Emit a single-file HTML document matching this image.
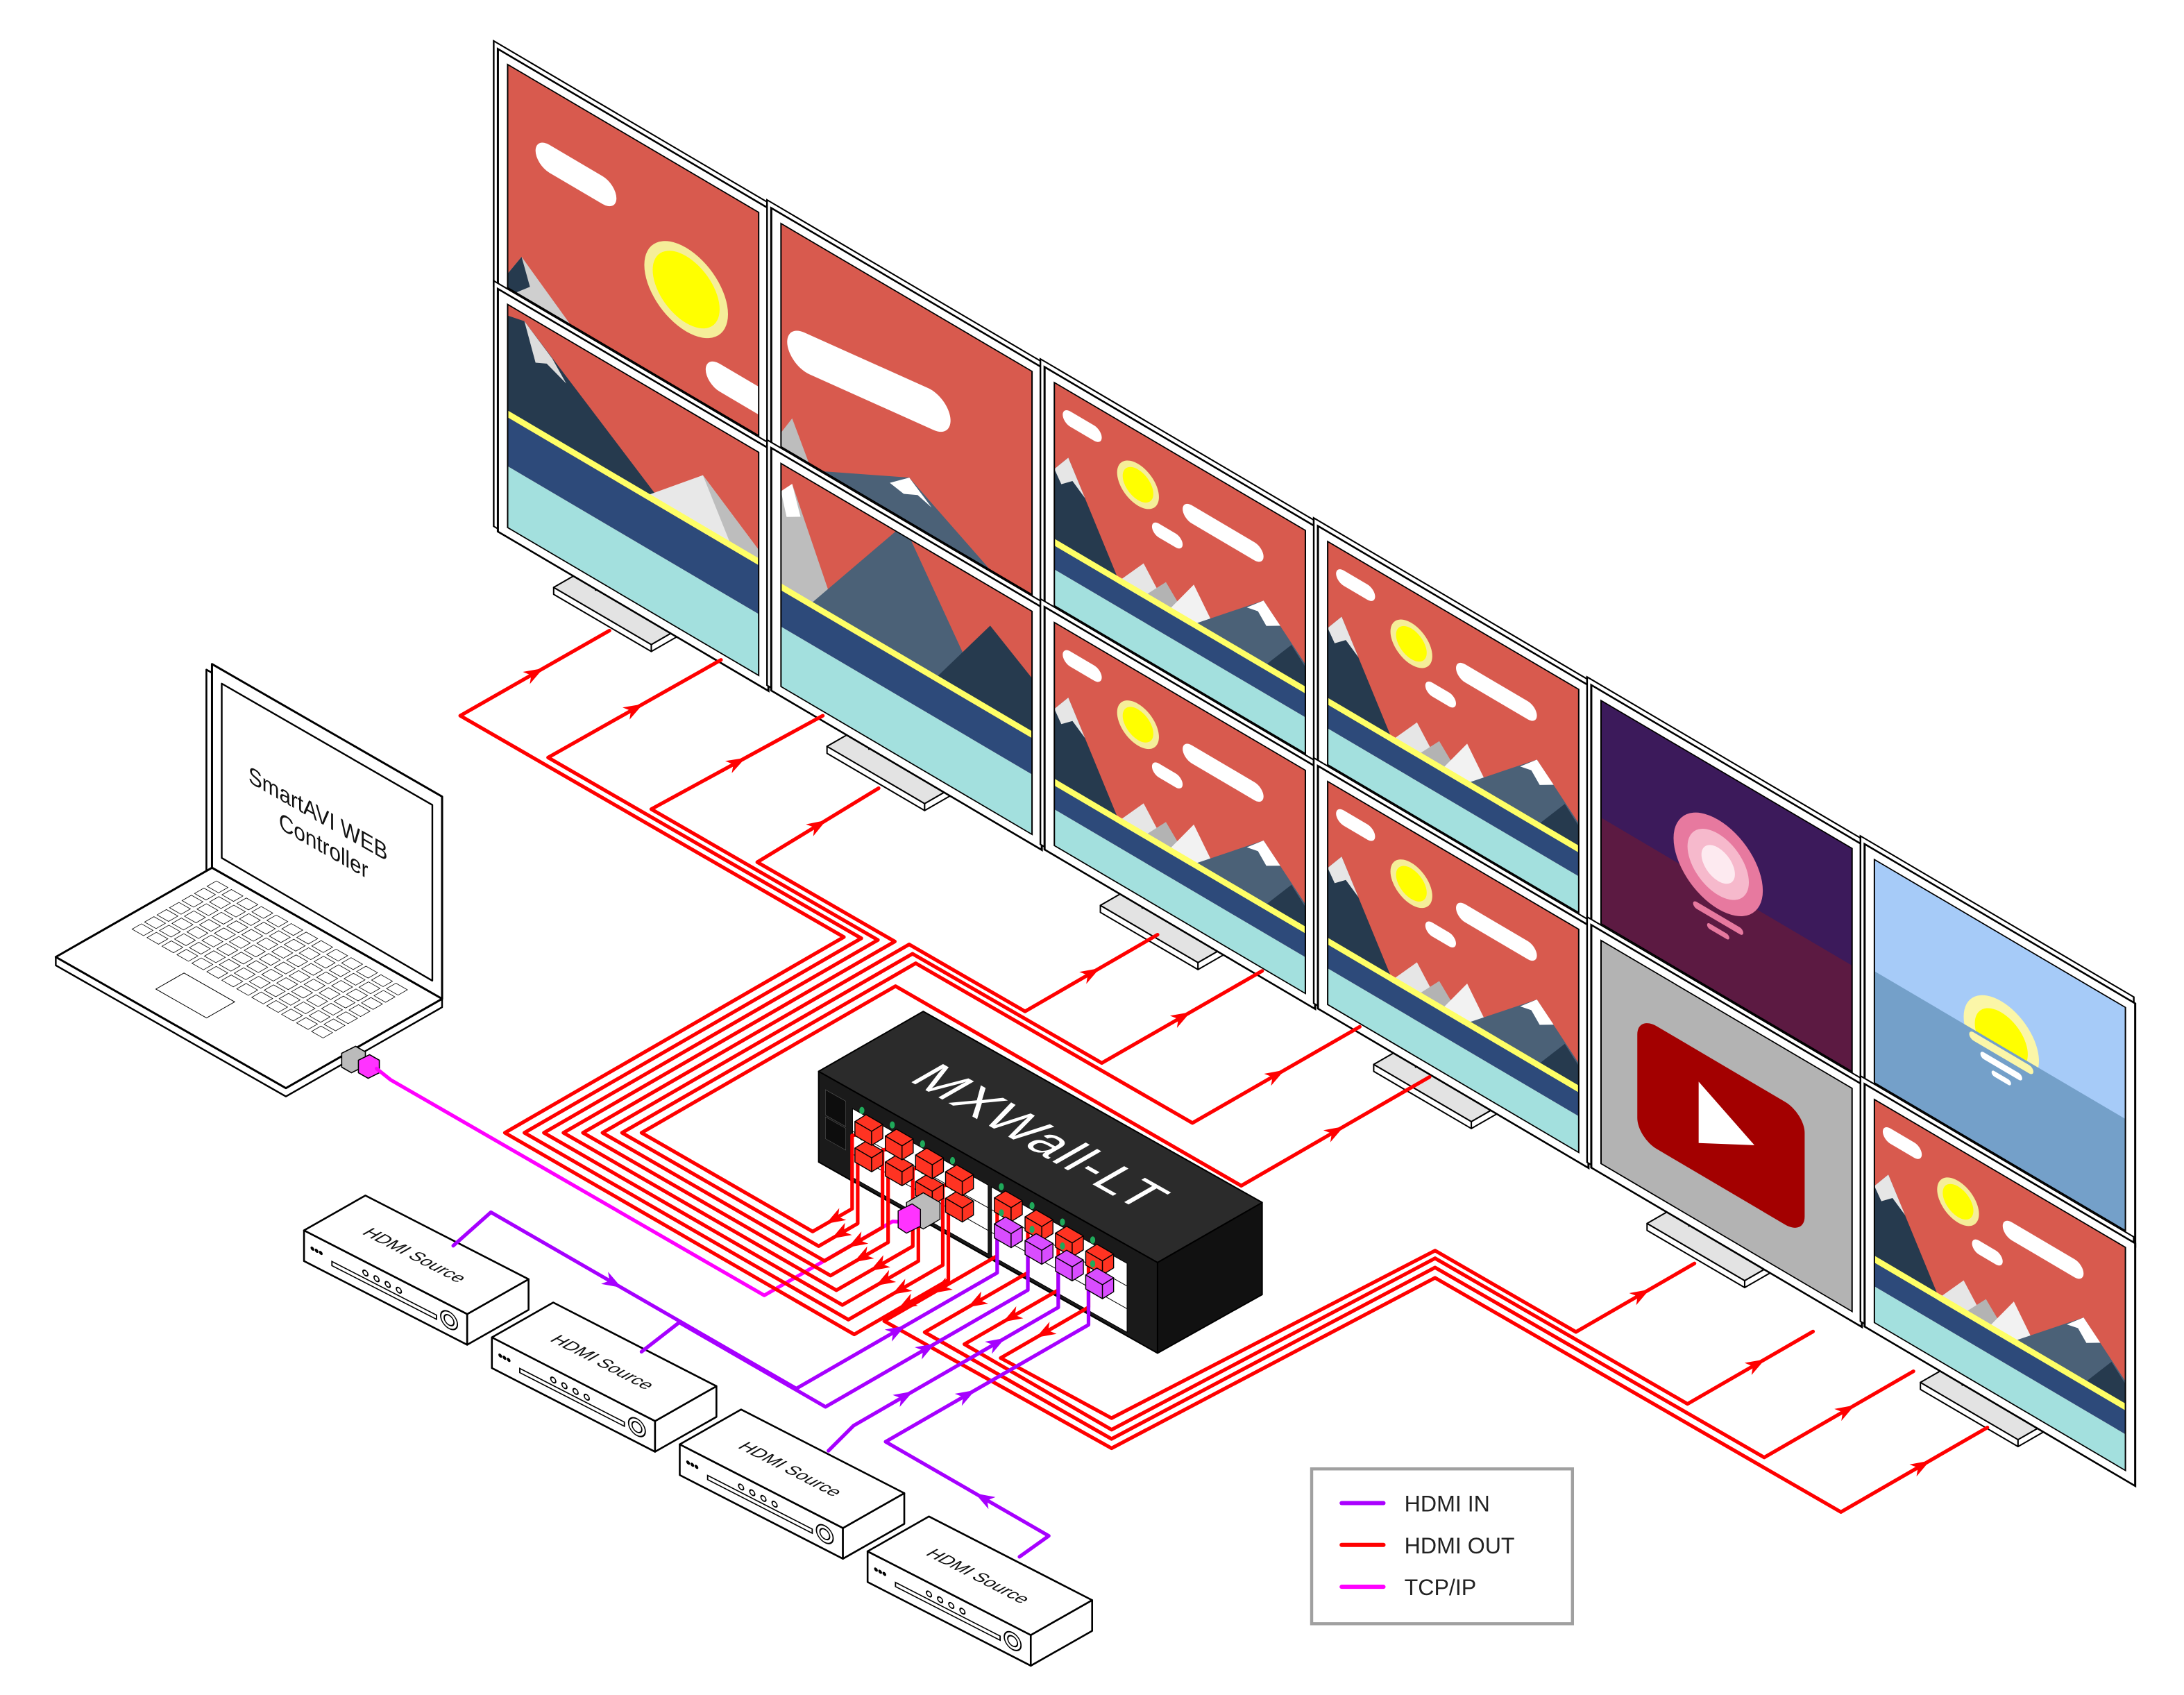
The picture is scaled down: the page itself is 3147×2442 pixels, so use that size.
<!DOCTYPE html>
<html><head><meta charset="utf-8">
<style>
html,body{margin:0;padding:0;background:#fff;}
svg{display:block;}
text{font-family:"Liberation Sans",sans-serif;}
</style></head>
<body>
<svg id="s" xmlns="http://www.w3.org/2000/svg" width="3147" height="2442" viewBox="0 0 1566 1215">
<defs><clipPath id="scr"><rect x="7" y="7" width="180" height="160"/></clipPath></defs>
<rect width="1566" height="1215" fill="#fff"/>
<g id="root"></g>
<g>
<rect x="940.5" y="1053" width="187" height="111" fill="#fff" stroke="#a0a0a0" stroke-width="2.2"/>
<line x1="962" y1="1077.5" x2="992" y2="1077.5" stroke="#aa00ff" stroke-width="3" stroke-linecap="round"/>
<line x1="962" y1="1107.5" x2="992" y2="1107.5" stroke="#ff0000" stroke-width="3" stroke-linecap="round"/>
<line x1="962" y1="1137.5" x2="992" y2="1137.5" stroke="#ff00ff" stroke-width="3" stroke-linecap="round"/>
<text x="1007" y="1083.5" font-size="16" fill="#222">HDMI IN</text>
<text x="1007" y="1113.5" font-size="16" fill="#222">HDMI OUT</text>
<text x="1007" y="1143.5" font-size="16" fill="#222">TCP/IP</text>
</g>
</svg>
<script>
(function(){
let o='';
const s=0.577;
const f=n=>(+n).toFixed(1);
function P(a){return a.map(p=>f(p[0])+','+f(p[1])).join(' ');}
function poly(a,fill,st,w){o+=`<polygon points="${P(a)}" fill="${fill}" stroke="${st||'#000'}" stroke-width="${w||1}" stroke-linejoin="round"/>`;}
function pl(a,c,w){o+=`<polyline points="${P(a)}" fill="none" stroke="${c}" stroke-width="${w||2.6}" stroke-linejoin="round" stroke-linecap="round"/>`;}
function ar(a,b,c,t){t=(t===undefined)?0.5:t;const x=a[0]+(b[0]-a[0])*t,y=a[1]+(b[1]-a[1])*t;let dx=b[0]-a[0],dy=b[1]-a[1];const L=Math.hypot(dx,dy);dx/=L;dy/=L;
 const tip=[x+dx*7,y+dy*7],l=[x-dx*7-dy*5,y-dy*7+dx*5],r=[x-dx*7+dy*5,y-dy*7-dx*5],m=[x-dx*3,y-dy*3];
 o+=`<polygon points="${P([tip,l,m,r])}" fill="${c}"/>`;}
function X(A,B){const x=(B[1]-A[1]+s*(A[0]+B[0]))/(2*s);return [x,A[1]+s*(x-A[0])];}
const ad=(p,d)=>[p[0]+d[0],p[1]+d[1]];

/* ---------- scenes ---------- */
const RED='#d85a4e',NAVY='#263a4e',BG='#4b6177',YEL='#ffff66',DB='#2d4a7a',TEAL='#a3e0de';
const A=`<rect width="180" height="160" fill="${RED}"/>
<rect x="6" y="14" width="28" height="11" rx="5.5" fill="#fff"/>
<rect x="92" y="30" width="58" height="13" rx="6.5" fill="#fff"/>
<rect x="70" y="57" width="22" height="10" rx="5" fill="#fff"/>
<circle cx="60" cy="38" r="15" fill="#f5ee99"/><circle cx="60" cy="38" r="11" fill="#ffff00"/>
<polygon points="0,62 10,48 48,118 0,118" fill="${NAVY}"/>
<polygon points="0,62 10,48 22,70 13,63 5,70" fill="#e6e6e6"/>
<polygon points="44,118 64,92 84,118" fill="#e6e6e6"/>
<polygon points="62,118 80,96 100,118" fill="#b3b3b3"/>
<polygon points="80,118 100,86 122,118" fill="#f2f2f2"/>
<polygon points="96,118 150,68 180,96 180,118" fill="${BG}"/>
<polygon points="150,68 138,80 146,78 152,85 162,79" fill="#fff"/>
<polygon points="148,118 170,88 180,98 180,118" fill="${NAVY}"/>
<rect y="112" width="180" height="5" fill="${YEL}"/>
<rect y="117" width="180" height="17" fill="${DB}"/>
<rect y="134" width="180" height="26" fill="${TEAL}"/>`;
const B1=`<rect width="180" height="160" fill="${RED}"/>
<rect x="20" y="40" width="58" height="20" rx="10" fill="#fff"/>
<rect x="142" y="125" width="48" height="20" rx="10" fill="#fff"/>
<circle cx="128" cy="86" r="30" fill="#f5ee99"/><circle cx="128" cy="86" r="24" fill="#ffff00"/>
<polygon points="0,150 10,132 45,160 0,160" fill="#cfcfcf"/>
<polygon points="0,150 10,132 16,150 6,160 0,160" fill="${NAVY}"/>`;
const B2=`<rect width="180" height="160" fill="${RED}"/>
<polygon points="0,8 12,5 112,78 0,78" fill="${NAVY}"/>
<polygon points="12,5 32,20 42,32 28,26 20,30" fill="#ddd"/>
<polygon points="100,78 140,40 180,70 180,78" fill="#e8e8e8"/>
<polygon points="140,40 160,78 180,78 180,70" fill="#bdbdbd"/>
<rect y="76" width="180" height="5" fill="${YEL}"/>
<rect y="81" width="180" height="35" fill="${DB}"/>
<rect y="116" width="180" height="44" fill="${TEAL}"/>`;
const B3=`<rect width="180" height="160" fill="${RED}"/>
<rect x="4" y="62" width="118" height="28" rx="14" fill="#fff" transform="rotate(-8 63 76)"/>
<polygon points="30,160 92,128 150,160" fill="${BG}"/>
<polygon points="78,140 92,128 108,140 98,137 88,142" fill="#fff"/>
<polygon points="0,150 8,135 20,160 0,160" fill="#bdbdbd"/>`;
const B4=`<rect width="180" height="160" fill="${RED}"/>
<polygon points="0,20 8,10 42,90 0,90" fill="#bdbdbd"/>
<polygon points="0,20 8,10 14,30 4,36" fill="#fff"/>
<polygon points="20,90 88,-8 150,90" fill="${BG}"/>
<polygon points="110,90 150,28 180,48 180,90" fill="${NAVY}"/>
<rect y="86" width="180" height="5" fill="${YEL}"/>
<rect y="91" width="180" height="26" fill="${DB}"/>
<rect y="117" width="180" height="43" fill="${TEAL}"/>`;
const PUR=`<rect width="180" height="160" fill="#3c1a5b"/><rect y="84" width="180" height="76" fill="#5c1a42"/>
<circle cx="84" cy="68" r="32" fill="#e7799f"/><circle cx="84" cy="68" r="22" fill="#f6b9cc"/><circle cx="84" cy="68" r="12" fill="#fdeaf0"/>
<rect x="66" y="104" width="36" height="5" rx="2.5" fill="#e7799f"/><rect x="76" y="114" width="16" height="4" rx="2" fill="#e7799f"/>`;
const YT=`<rect width="180" height="160" fill="#b3b3b3"/>
<rect x="26" y="38" width="120" height="88" rx="14" fill="#a30000"/>
<polygon points="70,60 70,104 110,82" fill="#fff"/>`;
const SKY=`<rect width="180" height="160" fill="#a6cbf8"/>
<circle cx="91" cy="75" r="27" fill="#fbf6a8"/><circle cx="91" cy="75" r="19" fill="#ffff00"/>
<rect y="80" width="180" height="80" fill="#74a0c9"/>
<rect x="68" y="82" width="46" height="6" rx="3" fill="#fbf6a8"/>
<rect x="76" y="92" width="30" height="5" rx="2.5" fill="#fff"/>
<rect x="84" y="101" width="14" height="4" rx="2" fill="#fff"/>`;
const scenes=[[B1,B2],[B3,B4],[A,A],[A,A],[PUR,YT],[SKY,A]];

/* ---------- stands ---------- */
for(let c=0;c<6;c++){
 const BLx=357+196*c, BLy=35+114*c+172+174;
 const p1=[BLx+40,BLy+40],p2=ad(p1,[70,41]),p3=ad(p2,[40,-23]),p4=ad(p1,[40,-23]);
 poly([p1,p2,ad(p2,[0,5]),ad(p1,[0,5])],'#fff');
 poly([p2,p3,ad(p3,[0,5]),ad(p2,[0,5])],'#fff');
 poly([p1,p2,p3,p4],'#e3e3e3');
 poly([ad(p1,[30,2]),ad(p1,[50,-10]),ad(p1,[50,-30]),ad(p1,[30,-18])],'#fff');
}
/* ---------- monitors ---------- */
for(let c=0;c<6;c++)for(let r=0;r<2;r++){
 const x0=357+196*c,y0=35+114*c+172*r;
 o+=`<g transform="matrix(1,0.589,0,1,${x0},${y0})">
<rect x="-3" y="-4" width="196" height="176" fill="#fff" stroke="#000" stroke-width="1.2"/>
<rect x="0" y="0" width="194" height="174" fill="#fff" stroke="#000" stroke-width="1.5"/>
<g clip-path="url(#scr)"><g transform="translate(7,7)">${scenes[c][r]}</g></g>
<rect x="7" y="7" width="180" height="160" fill="none" stroke="#000" stroke-width="1"/></g>`;
}

/* ---------- laptop ---------- */
poly([[148,480],[313,574],[313,719],[148,625]],'#fff','#000',1.3);
poly([[152,476],[317,571],[317,716],[152,622]],'#fff','#000',1.5);
poly([[159,490],[310,577],[310,703],[159,615]],'#fff','#000',1.2);
o+=`<g transform="matrix(0.868,0.496,0,1,0,0)" font-size="17" fill="#111" text-anchor="middle">
<text x="${228/0.868}" y="${583-0.496*228/0.868+6}">SmartAVI WEB</text>
<text x="${232/0.868}" y="${606-0.496*232/0.868+6}">Controller</text></g>`;
poly([[40,686],[40,692],[205,786],[317,722],[317,716],[205,780]],'#fff','#000',1.2);
poly([[40,686],[152,622],[317,716],[205,780]],'#fff','#000',1.5);
{
 let k='';
 for(let b=6;b<=54;b+=8){for(let a=6;a<=90;a+=6.5){k+=`<rect x="${a}" y="${b}" width="5" height="6" fill="#fff" stroke="#000" stroke-width="0.8" vector-effect="non-scaling-stroke"/>`;}}
 k+=`<rect x="34" y="68" width="22" height="18" fill="#fff" stroke="#000" stroke-width="1" vector-effect="non-scaling-stroke"/>`;
 o+=`<g transform="matrix(1.65,0.94,-1.12,0.64,152,622)">${k}</g>`;
}
poly([[245,755],[255,750],[262,754],[262,764],[252,769],[245,765]],'#bbb','#000',0.8);
poly([[257,760],[265,756],[272,760],[272,769],[264,773],[257,769]],'#ff33ff','#000',0.8);

/* ---------- HDMI sources ---------- */
for(let i=0;i<4;i++){
 const L=[218+134.7*i,882+76.7*i];
 poly([L,ad(L,[117,60]),ad(L,[117,82]),ad(L,[0,22])],'#fff','#000',1.3);
 poly([ad(L,[117,60]),ad(L,[161,35]),ad(L,[161,57]),ad(L,[117,82])],'#fff','#000',1.3);
 poly([L,ad(L,[44,-25]),ad(L,[161,35]),ad(L,[117,60])],'#fff','#000',1.3);
 o+=`<g transform="matrix(1,0.513,0,1,${L[0]},${L[1]})" stroke="#000" fill="#fff" stroke-width="0.9">
<circle cx="6" cy="10" r="0.9" fill="#000"/><circle cx="9" cy="10" r="0.9" fill="#000"/><circle cx="12" cy="10" r="0.9" fill="#000"/>
<rect x="20" y="12" width="75" height="3"/>
<circle cx="44" cy="8" r="1.8"/><circle cx="52" cy="8" r="1.8"/><circle cx="60" cy="8" r="1.8"/><circle cx="68" cy="8" r="1.8"/>
<circle cx="104" cy="11" r="6"/><circle cx="104" cy="11" r="3.5"/></g>`;
 const cx=L[0]+80,cy=L[1]+17.5;
 o+=`<g transform="matrix(0.89,0.456,-0.87,0.494,${cx},${cy})"><text x="0" y="5" font-size="13" text-anchor="middle" fill="#111">HDMI Source</text></g>`;
}

/* ---------- switch ---------- */
const Ab=[662,725],Bb=[905,862],Cf=[830,905],Df=[587,768];
poly([Df,Cf,[830,970],[587,833]],'#1a1a1a','#000',1);
poly([Cf,Bb,[905,928],[830,970]],'#111','#000',1);
poly([Ab,Bb,Cf,Df],'#2b2b2b','#000',1);
o+=`<g transform="matrix(2.43,1.37,0,0.65,587,768)">
<rect x="10" y="20" width="40" height="76" fill="#fff" stroke="#000" stroke-width="1" vector-effect="non-scaling-stroke"/>
<rect x="51" y="20" width="40" height="76" fill="#fff" stroke="#000" stroke-width="1" vector-effect="non-scaling-stroke"/>
<line x1="10" y1="45" x2="50" y2="45" stroke="#000" vector-effect="non-scaling-stroke"/>
<line x1="10" y1="70" x2="50" y2="70" stroke="#000" vector-effect="non-scaling-stroke"/>
<line x1="51" y1="45" x2="91" y2="45" stroke="#000" vector-effect="non-scaling-stroke"/>
<line x1="51" y1="70" x2="91" y2="70" stroke="#000" vector-effect="non-scaling-stroke"/>
<rect x="2" y="16" width="6" height="28" fill="#0d0d0d" stroke="#555" stroke-width="0.6" vector-effect="non-scaling-stroke"/>
<rect x="2" y="46" width="6" height="24" fill="#0d0d0d" stroke="#555" stroke-width="0.6" vector-effect="non-scaling-stroke"/>
</g>`;
o+=`<g transform="matrix(0.871,0.491,-0.867,0.497,746,815)"><text x="0" y="13" font-size="38" text-anchor="middle" fill="#fff" letter-spacing="1">MXWall-LT</text></g>`;

/* ---------- cables ---------- */
const RC='#ff0000',PC='#a600ff',MC='#ff00ff';
// magenta TCP/IP
{const c1=[280,774],k=[548,774+s*268],e=[640,k[1]-s*92];pl([[270,766],c1,k,e,[648,876]],MC);}
// left red bundle
const Es=[[437,452],[517,473],[590,513],[630,565],[830,670],[905,696],[975,736],[1025,772]];
const Cs=[[330,513],[393,543],[467,580],[543,618],[735,725],[790,762],[855,805],[890,850]];
const conL=[[688,863],[688,844],[666.5,851],[666.5,832],[644.8,837],[644.8,818.4],[623,827],[623,808]];
for(let j=0;j<8;j++){
 const Bj=[362+14*j,812];
 const T=X(Cs[j],Bj);
 const cn=conL[j];
 const Aj=[cn[0]-8-(j%2?4:0),cn[1]+6];
 const v=1310-13*j;
 const Q=[Aj[0],v-s*Aj[0]];
 const K=X(Bj,Q);
 pl([Es[j],Cs[j],T,Bj,K,Q,Aj,[cn[0]-6,cn[1]+5]],RC);
 ar(Cs[j],Es[j],RC,0.5);
 ar(Q,K,RC,0.45);
}
// right red
const Lr=[[717.5,973.5],[691.5,963.6],[663,955],[634,947]];
const Vy=[1016.6,1024.9,1031.5,1038.2],Wy=[896.5,902,908.6,916];
const Ux=[1130,1210,1265,1320],Ex=[1215,1300,1372,1425];
const conR=[[788.5,900.9],[766.8,888],[745,876.3],[723,862.7]];
for(let k=0;k<4;k++){
 const cn=conR[k],Ak=[cn[0]-8,cn[1]+6];
 const L=Lr[k],D=[Ak[0],L[1]-s*(Ak[0]-L[0])];
 const V=[797,Vy[k]],W=[1029,Wy[k]];
 const U=[Ux[k],W[1]+s*(Ux[k]-1029)];
 const E=[Ex[k],U[1]-s*(Ex[k]-Ux[k])];
 pl([[cn[0]-6,cn[1]+5],Ak,D,L,V,W,U,E],RC);
 ar(D,L,RC,0.5);
 ar(U,E,RC,0.55);
}
// purple
const conP=[[723,881.4],[745,893.3],[766.8,905.2],[788.5,918]];
{
 const a=conP[0],A1=[a[0]-8,a[1]+6];
 const p=[[325,893],[352,869],[571,995.4],[A1[0],1325-s*A1[0]],A1,[a[0]-6,a[1]+5]];
 pl(p,PC);ar(p[1],p[2],PC,0.4);ar(p[2],p[3],PC,0.5);
}
{
 const a=conP[1],A1=[a[0]-8,a[1]+6];
 const p=[[460,969],[487,948],[591.9,1008.5],[A1[0],1350-s*A1[0]],A1,[a[0]-6,a[1]+5]];
 pl(p,PC);ar(p[2],p[3],PC,0.5);
}
{
 const a=conP[2],A1=[a[0]-8,a[1]+6];
 const p=[[594,1040],[612,1022],[A1[0],1375-s*A1[0]],A1,[a[0]-6,a[1]+5]];
 pl(p,PC);ar(p[1],p[2],PC,0.25);ar(p[1],p[2],PC,0.7);
}
{
 const a=conP[3],A1=[a[0]-8,a[1]+6];
 const p=[[731,1116],[752,1101],[635,1033.5],[A1[0],1400-s*A1[0]],A1,[a[0]-6,a[1]+5]];
 pl(p,PC);ar(p[1],p[2],PC,0.4);ar(p[2],p[3],PC,0.4);
}

/* ---------- connectors ---------- */
function conn(cx,cy,col){
 o+=`<ellipse cx="${cx-5}" cy="${cy-12}" rx="1.8" ry="2.6" fill="#1fa95a"/>`;
 poly([[cx-10,cy-4],[cx-2,cy-9],[cx+10,cy-2],[cx+2,cy+3]],col,'#000',0.7);
 poly([[cx-10,cy-4],[cx+2,cy+3],[cx+2,cy+13],[cx-10,cy+6]],col,'#000',0.7);
 poly([[cx+2,cy+3],[cx+10,cy-2],[cx+10,cy+8],[cx+2,cy+13]],col,'#000',0.7);
}
conL.forEach(c=>conn(c[0],c[1],'#ff3322'));
conR.forEach(c=>conn(c[0],c[1],'#ff3322'));
conP.forEach(c=>conn(c[0],c[1],'#d94dff'));
poly([[650,862],[662,855],[674,862],[674,874],[662,881],[650,874]],'#bbb','#000',0.7);
poly([[644,868],[654,863],[660,867],[660,879],[650,884],[644,880]],'#ff33ff','#000',0.7);

document.getElementById('root').innerHTML=o;
})();
</script>
</body></html>
